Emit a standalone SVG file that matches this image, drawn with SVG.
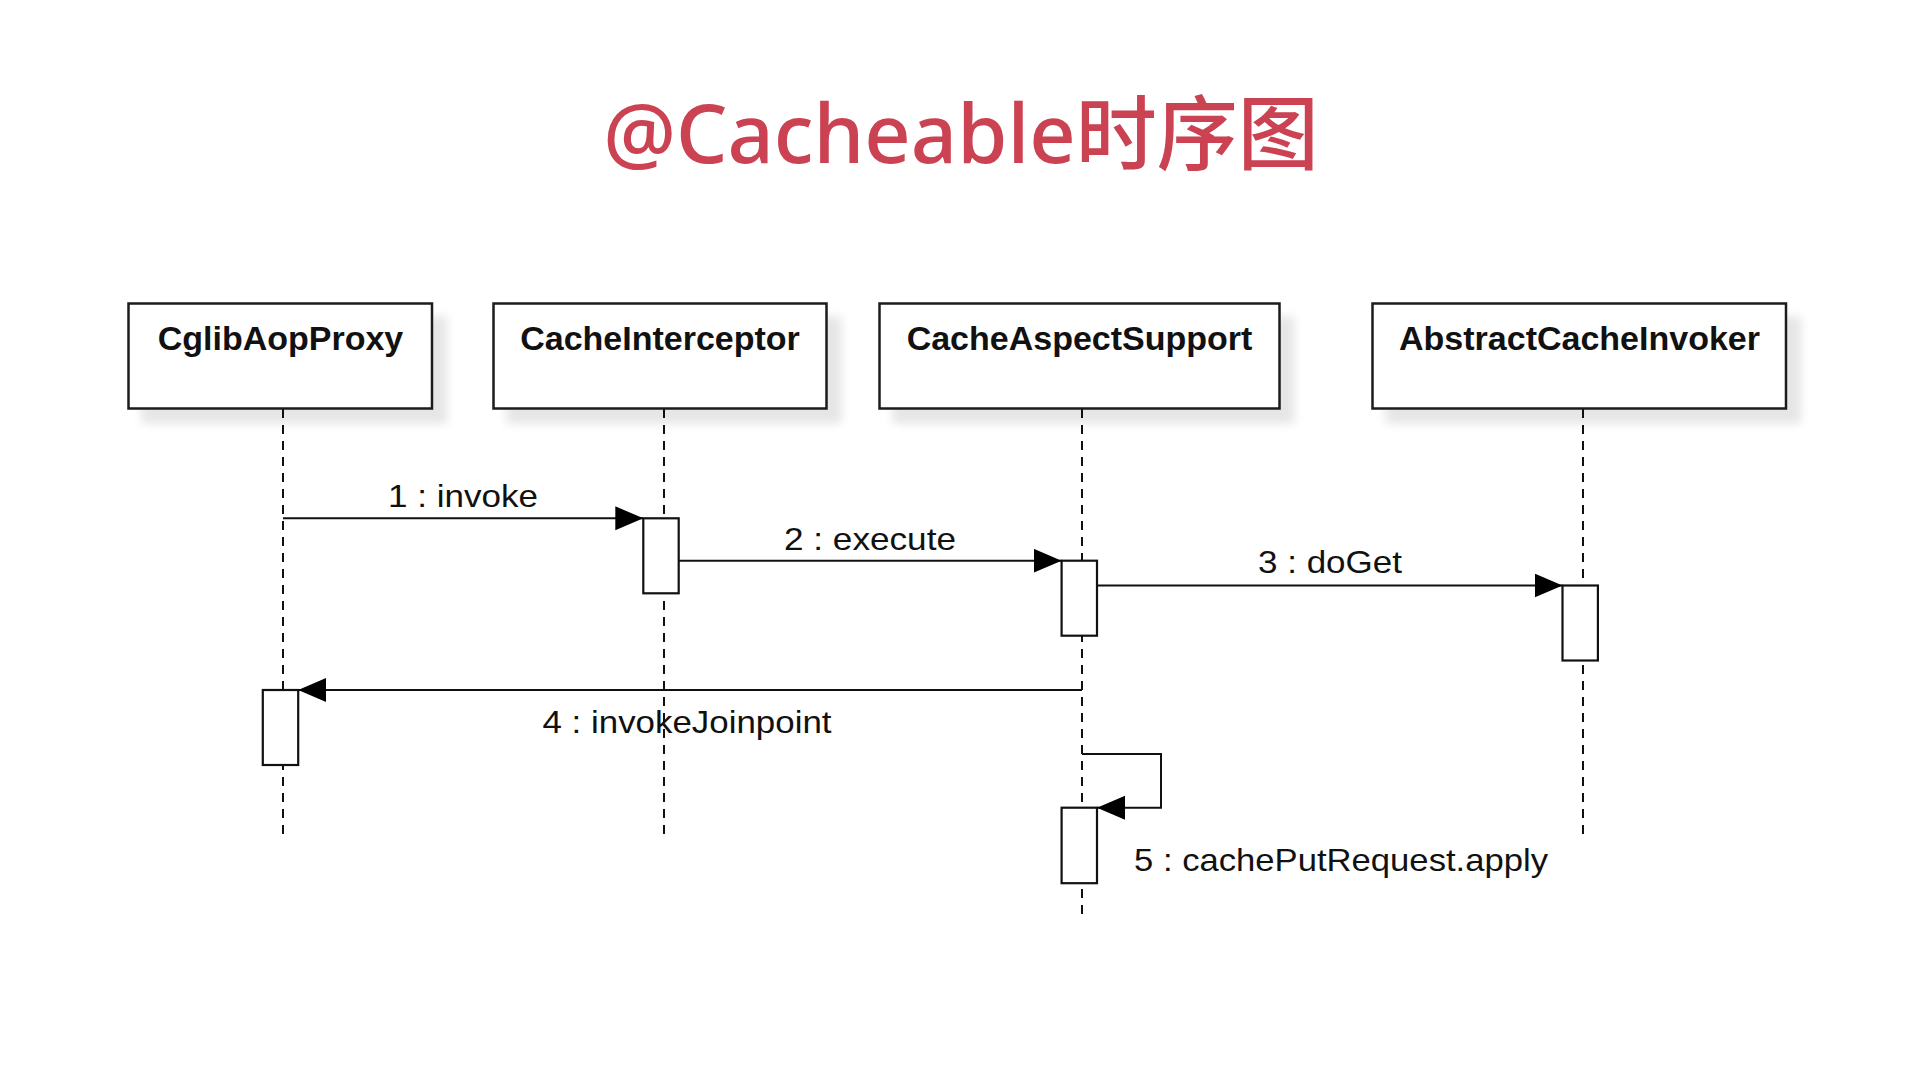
<svg xmlns="http://www.w3.org/2000/svg" width="1920" height="1080" viewBox="0 0 1920 1080">
  <defs>
    <style>
      .title { font-family: "Noto Sans", "Noto Sans CJK SC", sans-serif; font-size: 81px; font-weight: 500; fill: #CB4253; }
      .box { fill: #ffffff; stroke: #1a1a1a; stroke-width: 2.5; }
      .boxlabel { font-family: "Liberation Sans", Arial, sans-serif; font-size: 34px; font-weight: bold; fill: #111; text-anchor: middle; }
      .lifeline { stroke: #111; stroke-width: 2; stroke-dasharray: 9 7; fill: none; }
      .act { fill: #ffffff; stroke: #111; stroke-width: 2.2; }
      .msg { stroke: #111; stroke-width: 2; fill: none; }
      .label { font-family: "Liberation Sans", Arial, sans-serif; font-size: 32px; fill: #111; }
    </style>
    <filter id="shadow" x="-10%" y="-20%" width="130%" height="160%">
      <feGaussianBlur in="SourceAlpha" stdDeviation="5"/>
      <feOffset dx="14" dy="14" result="b"/>
      <feComponentTransfer><feFuncA type="linear" slope="0.1"/></feComponentTransfer>
      <feMerge><feMergeNode/><feMergeNode in="SourceGraphic"/></feMerge>
    </filter>
    <marker id="arrow" markerUnits="userSpaceOnUse" markerWidth="30" markerHeight="26" refX="28" refY="12" orient="auto">
      <path d="M0,0 L28,12 L0,24 Z" fill="#000"/>
    </marker>
  </defs>

  <rect width="1920" height="1080" fill="#ffffff"/>

  <text class="title" x="961" y="163" text-anchor="middle">@Cacheable时序图</text>

  <g id="lifelines">
    <line class="lifeline" x1="283" y1="409" x2="283" y2="838"/>
    <line class="lifeline" x1="664" y1="409" x2="664" y2="838"/>
    <line class="lifeline" x1="1082" y1="409" x2="1082" y2="917"/>
    <line class="lifeline" x1="1583" y1="409" x2="1583" y2="838"/>
  </g>

  <g id="CglibAopProxy">
    <rect class="box" x="128.5" y="303.5" width="303.5" height="105" filter="url(#shadow)"/>
    <text class="boxlabel" x="280.5" y="350">CglibAopProxy</text>
  </g>
  <g id="CacheInterceptor">
    <rect class="box" x="493.5" y="303.5" width="333" height="105" filter="url(#shadow)"/>
    <text class="boxlabel" x="660" y="350">CacheInterceptor</text>
  </g>
  <g id="CacheAspectSupport">
    <rect class="box" x="879.5" y="303.5" width="400" height="105" filter="url(#shadow)"/>
    <text class="boxlabel" x="1079.5" y="350">CacheAspectSupport</text>
  </g>
  <g id="AbstractCacheInvoker">
    <rect class="box" x="1372.5" y="303.5" width="413.5" height="105" filter="url(#shadow)"/>
    <text class="boxlabel" x="1579.5" y="350">AbstractCacheInvoker</text>
  </g>

  <g id="activations">
    <rect class="act" x="643.3" y="518.3" width="35.4" height="75"/>
    <rect class="act" x="1061.6" y="560.7" width="35.4" height="75"/>
    <rect class="act" x="1562.5" y="585.5" width="35.4" height="75"/>
    <rect class="act" x="262.8" y="690" width="35.4" height="75"/>
    <rect class="act" x="1061.6" y="807.7" width="35.4" height="75.5"/>
  </g>

  <g id="connectors">
    <line class="msg" x1="283" y1="518.3" x2="643.3" y2="518.3" marker-end="url(#arrow)"/>
    <line class="msg" x1="678.7" y1="560.7" x2="1061.6" y2="560.7" marker-end="url(#arrow)"/>
    <line class="msg" x1="1097" y1="585.5" x2="1562.5" y2="585.5" marker-end="url(#arrow)"/>
    <line class="msg" x1="1082" y1="690" x2="298.2" y2="690" marker-end="url(#arrow)"/>
    <path class="msg" d="M1082,754 H1161 V807.7 H1097" marker-end="url(#arrow)"/>
  </g>

  <g id="labels">
    <text class="label" x="463" y="507" text-anchor="middle" textLength="150" lengthAdjust="spacingAndGlyphs">1 : invoke</text>
    <text class="label" x="870" y="550" text-anchor="middle" textLength="172" lengthAdjust="spacingAndGlyphs">2 : execute</text>
    <text class="label" x="1330" y="573" text-anchor="middle" textLength="144" lengthAdjust="spacingAndGlyphs">3 : doGet</text>
    <text class="label" x="687" y="732.5" text-anchor="middle" textLength="289" lengthAdjust="spacingAndGlyphs">4 : invokeJoinpoint</text>
    <text class="label" x="1134" y="871" textLength="414" lengthAdjust="spacingAndGlyphs">5 : cachePutRequest.apply</text>
  </g>
</svg>
